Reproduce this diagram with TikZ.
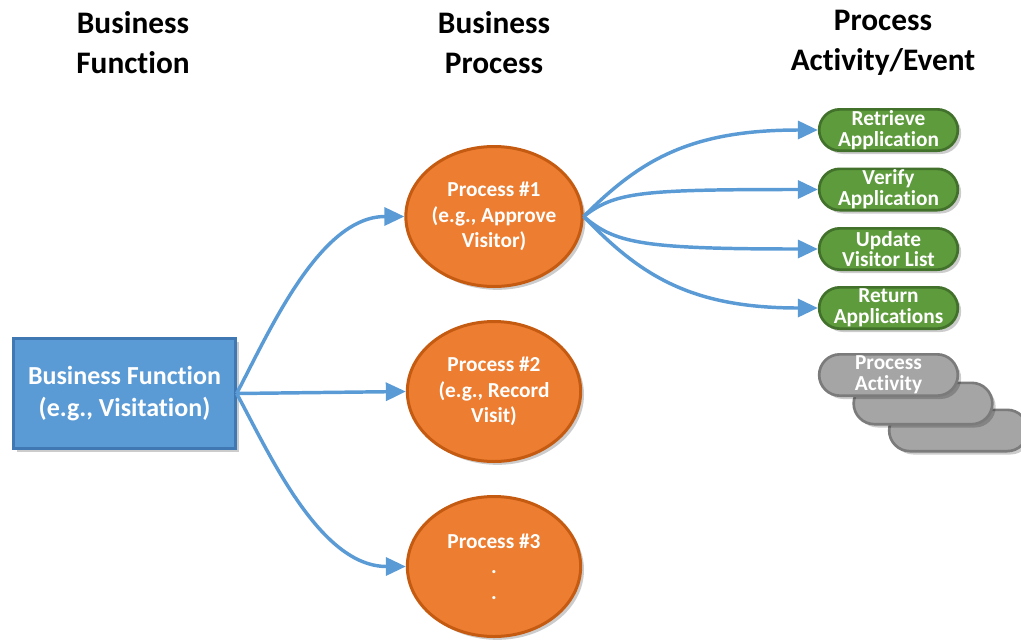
\documentclass[tikz,border=0pt]{standalone}
\usepackage{fontspec}
\setmainfont{Carlito}[Ligatures=NoCommon]
\usetikzlibrary{arrows.meta,shadows,shapes.geometric}

\definecolor{bluefill}{HTML}{5B9BD5}
\definecolor{blueline}{HTML}{3F78B2}
\definecolor{orfill}{HTML}{ED7D31}
\definecolor{orline}{HTML}{C55A11}
\definecolor{grfill}{HTML}{5E9B3C}
\definecolor{grline}{HTML}{41712A}
\definecolor{gyfill}{HTML}{A5A5A5}
\definecolor{gyline}{HTML}{7B7B7B}
\definecolor{arrowblue}{HTML}{5B9BD5}

\begin{document}
\begin{tikzpicture}[x=0.75pt,y=-0.75pt,
 shadowed/.style={drop shadow={shadow xshift=2.5pt,shadow yshift=-2.5pt,opacity=0.2,fill=black}},
 head/.style={font=\fontsize{23.5}{30}\selectfont\bfseries, align=center, inner sep=0pt},
 funcbox/.style={rectangle, draw=blueline, fill=bluefill, line width=2.25pt, minimum width=166pt, minimum height=82pt, text=white, align=center, font=\fontsize{19.5}{24}\selectfont\bfseries, shadowed},
 proc/.style={ellipse, draw=orline, fill=orfill, line width=2.25pt, minimum width=130pt, minimum height=105pt, text=white, align=center, font=\fontsize{16}{19}\selectfont\bfseries, inner sep=0pt, shadowed},
 act/.style={rectangle, rounded corners=15.5pt, draw=grline, fill=grfill, line width=2pt, minimum width=104pt, minimum height=31pt, inner sep=0pt, text=white, align=center, font=\fontsize{16}{15.5}\selectfont\bfseries, shadowed},
 gact/.style={act, draw=gyline, fill=gyfill},
 conn/.style={draw=arrowblue, line width=2.6pt, -{Triangle[length=15pt,width=13.5pt]}},
]
\useasboundingbox (0,0) rectangle (1021,640);

% headers
\node[head] (h1) at (133,43) {Business\\Function};
\node[head] (h2) at (494,43) {Business\\Process};
\node[head] (h3) at (883,43) {Process\\Activity/Event};

% function box
\node[funcbox] (bf) at (124.5,393.5) {Business Function\\(e.g., Visitation)};

% processes
\node[proc] (p1) at (494,216.5) {Process \#1\\(e.g., Approve\\Visitor)};
\node[proc] (p2) at (494,391.5) {Process \#2\\(e.g., Record\\Visit)};
\node[proc] (p3) at (494,566.5) {Process \#3\\.\\.};

% activities
\node[act] (a1) at (888.5,130) {Retrieve\\Application};
\node[act] (a2) at (888.5,189.5) {Verify\\Application};
\node[act] (a3) at (888.5,249) {Update\\Visitor List};
\node[act] (a4) at (888.5,308) {Return\\Applications};

% stacked generic activities
\node[gact] (g3) at (958.5,430.5) {};
\node[gact] (g2) at (923,403.5) {};
\node[gact] (g1) at (888.5,375) {Process\\Activity};

% connectors from function
\draw[conn] (bf.east) .. controls (270,330) and (320,216.5) .. (p1.west);
\draw[conn] (bf.east) -- (p2.west);
\draw[conn] (bf.east) .. controls (270,455) and (320,566.5) .. (p3.west);

% connectors from process 1
\draw[conn] (p1.east) .. controls (640,160) and (690,130) .. (a1.west);
\draw[conn] (p1.east) .. controls (615,192) and (640,189.5) .. (a2.west);
\draw[conn] (p1.east) .. controls (615,243) and (640,249) .. (a3.west);
\draw[conn] (p1.east) .. controls (640,275) and (690,308) .. (a4.west);
\end{tikzpicture}
\end{document}
